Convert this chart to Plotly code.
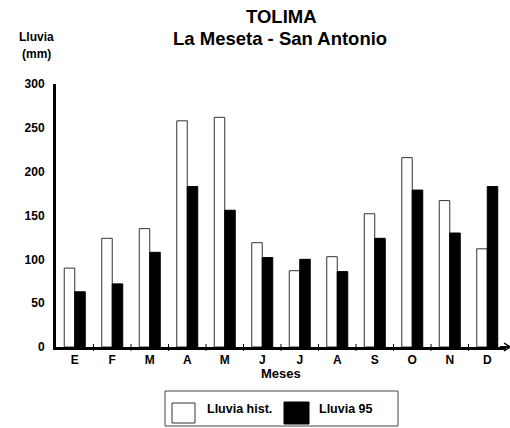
import plotly.graph_objects as go

months = ["E", "F", "M", "A", "M", "J", "J", "A", "S", "O", "N", "D"]
lluvia_hist = [90, 124, 135, 258, 262, 119, 87, 103, 152, 216, 167, 112]
lluvia_95 = [63, 72, 108, 183, 156, 102, 100, 86, 124, 179, 130, 183]
y_ticks = [0, 50, 100, 150, 200, 250, 300]

W, H = 510, 428
L, R, T, B = 56, 4, 84, 81
FONT = "Liberation Sans, Arial, sans-serif"


def px(xp):
    return (xp - L) / (W - L - R)


def py(yp):
    return (H - B - yp) / (H - T - B)


x = list(range(len(months)))

fig = go.Figure()
fig.add_trace(go.Bar(x=x, y=lluvia_hist, name="Lluvia hist.",
                     marker=dict(color="white", line=dict(color="#333", width=1))))
fig.add_trace(go.Bar(x=x, y=lluvia_95, name="Lluvia 95",
                     marker=dict(color="black", line=dict(color="black", width=1))))

fig.update_layout(
    width=W, height=H,
    margin=dict(l=L, r=R, t=T, b=B, autoexpand=False),
    paper_bgcolor="white", plot_bgcolor="white",
    barmode="group", bargap=0.44, bargroupgap=0,
    showlegend=False,
    font=dict(family=FONT, color="black", size=12, weight="bold"),
)
fig.update_xaxes(
    range=[-0.5, 11.5], tickmode="array", tickvals=x, ticktext=months,
    showline=True, linecolor="black", linewidth=3,
    ticks="", showgrid=False, zeroline=False,
    tickfont=dict(family=FONT, size=12, weight="bold"),
)
fig.update_yaxes(
    range=[0, 300], tickmode="array", tickvals=y_ticks,
    showline=True, linecolor="black", linewidth=3,
    ticks="", showgrid=False, zeroline=False,
    tickfont=dict(family=FONT, size=12, weight="bold"), ticklabelstandoff=6,
)

# boundary tick marks between categories (drawn in data x units)
for b in [i + 0.5 for i in range(11)]:
    fig.add_shape(type="line", xref="x", yref="paper", x0=b, x1=b,
                  y0=py(344), y1=py(351), line=dict(color="black", width=1))

annos = [
    dict(text="TOLIMA", x=281, y=17, size=18.5),
    dict(text="La Meseta - San Antonio", x=280, y=39, size=18.5),
    dict(text="Lluvia", x=36, y=37, size=12),
    dict(text="(mm)", x=36, y=54, size=12),
    dict(text="Meses", x=281, y=373, size=13),
]
for a in annos:
    fig.add_annotation(text=a["text"], x=px(a["x"]), y=py(a["y"]),
                       xref="paper", yref="paper", xanchor="center", yanchor="middle",
                       showarrow=False,
                       font=dict(family=FONT, size=a["size"], weight="bold", color="black"))

# arrow extension of x axis
fig.add_shape(type="line", xref="paper", yref="paper", x0=px(500), x1=px(509),
              y0=py(347), y1=py(347), line=dict(color="black", width=2))
fig.add_shape(type="path", xref="paper", yref="paper",
              path=f"M {px(504)} {py(343)} L {px(510)} {py(347)} L {px(504)} {py(351)}",
              line=dict(color="black", width=1.5))

# legend box (custom)
fig.add_shape(type="rect", xref="paper", yref="paper", x0=px(165), x1=px(398),
              y0=py(426), y1=py(391), line=dict(color="#444", width=1), fillcolor="white")
fig.add_shape(type="rect", xref="paper", yref="paper", x0=px(172), x1=px(195),
              y0=py(423), y1=py(403), line=dict(color="#333", width=1), fillcolor="white")
fig.add_shape(type="rect", xref="paper", yref="paper", x0=px(284), x1=px(309),
              y0=py(424), y1=py(402), line=dict(color="black", width=1), fillcolor="black")
fig.add_annotation(text="Lluvia hist.", x=px(205), y=py(409), xref="paper", yref="paper",
                   xanchor="left", yanchor="middle", showarrow=False,
                   font=dict(family=FONT, size=12.5, weight="bold", color="black"))
fig.add_annotation(text="Lluvia 95", x=px(317), y=py(409), xref="paper", yref="paper",
                   xanchor="left", yanchor="middle", showarrow=False,
                   font=dict(family=FONT, size=12.5, weight="bold", color="black"))

fig.write_html("out.html", config={"displayModeBar": False},
               post_script="document.body.style.margin='0';")
